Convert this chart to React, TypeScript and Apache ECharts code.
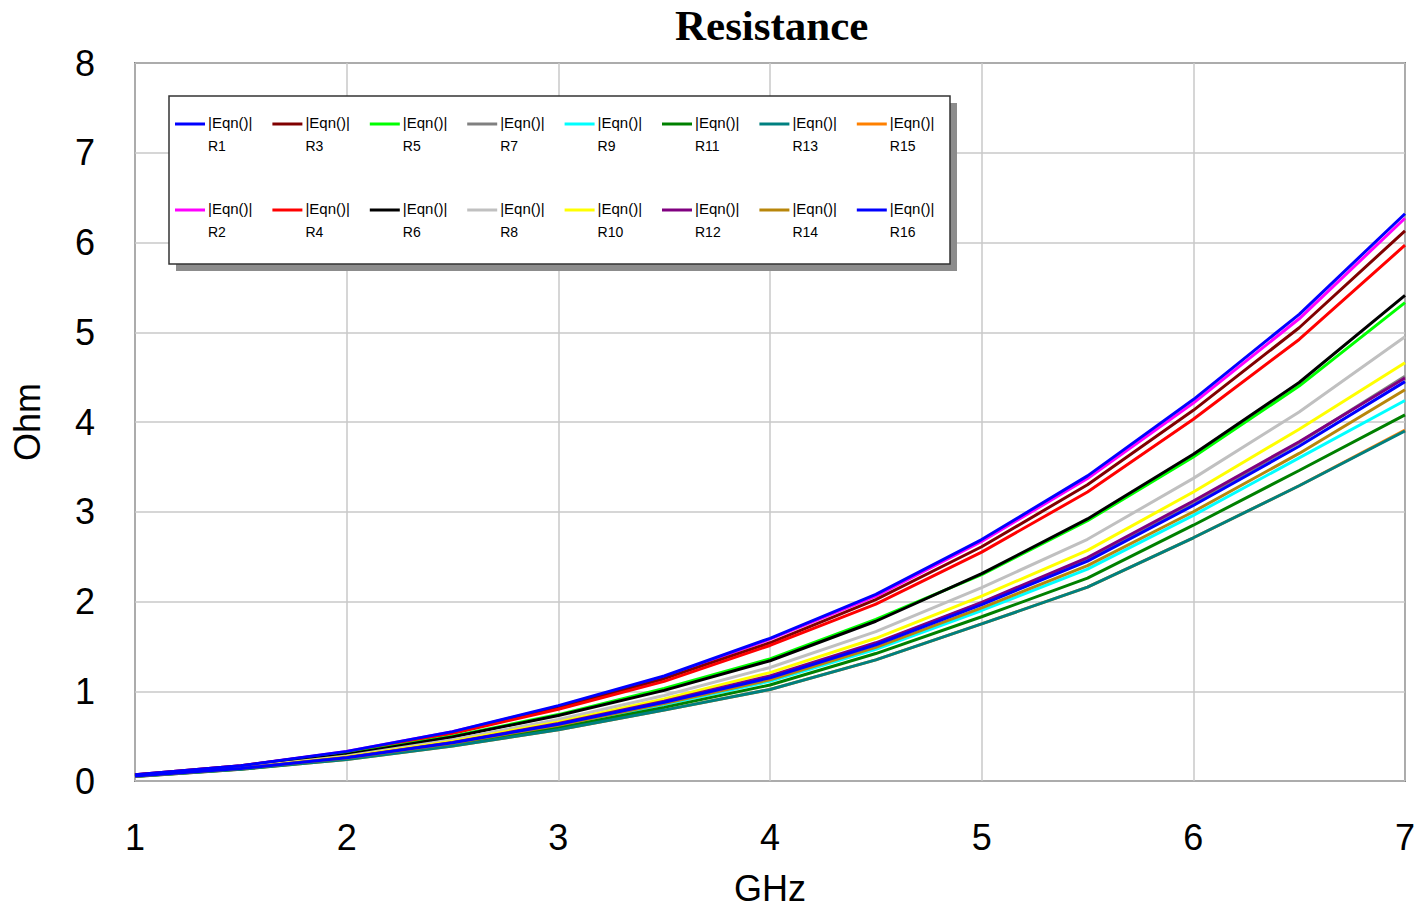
import React, { useEffect, useRef } from "react";
import * as echarts from "echarts";

const freqs = [1, 1.5, 2, 2.5, 3, 3.5, 4, 4.5, 5, 5.5, 6, 6.5, 7];

const seriesNames = ["R1", "R2", "R3", "R4", "R5", "R6", "R7", "R8", "R9", "R10", "R11", "R12", "R13", "R14", "R15", "R16"];
const seriesColors = [
  "#0000ff", "#ff00ff", "#800000", "#ff0000", "#00ff00", "#000000", "#808080", "#c0c0c0",
  "#00ffff", "#ffff00", "#008000", "#800080", "#008080", "#b8860b", "#ff8000", "#0000ff",
];

const R1 = [0.07, 0.17, 0.33, 0.55, 0.84, 1.17, 1.59, 2.08, 2.69, 3.4, 4.25, 5.2, 6.32];
const R2 = [0.07, 0.17, 0.33, 0.55, 0.83, 1.16, 1.58, 2.06, 2.67, 3.37, 4.21, 5.15, 6.27];
const R3 = [0.07, 0.17, 0.32, 0.54, 0.82, 1.14, 1.54, 2.02, 2.61, 3.3, 4.13, 5.05, 6.13];
const R4 = [0.067, 0.16, 0.32, 0.53, 0.8, 1.11, 1.51, 1.97, 2.55, 3.22, 4.03, 4.92, 5.97];
const R5 = [0.06, 0.155, 0.3, 0.5, 0.74, 1.03, 1.36, 1.8, 2.3, 2.9, 3.61, 4.4, 5.33];
const R6 = [0.06, 0.155, 0.295, 0.49, 0.73, 1.01, 1.34, 1.78, 2.31, 2.92, 3.64, 4.44, 5.41];
const R7 = [0.055, 0.14, 0.262, 0.43, 0.638, 0.885, 1.163, 1.53, 1.985, 2.47, 3.095, 3.77, 4.51];
const R8 = [0.059, 0.147, 0.279, 0.459, 0.686, 0.953, 1.265, 1.664, 2.154, 2.693, 3.372, 4.111, 4.95];
const R9 = [0.053, 0.136, 0.254, 0.416, 0.613, 0.851, 1.111, 1.467, 1.9, 2.36, 2.96, 3.6, 4.24];
const R10 = [0.057, 0.143, 0.27, 0.443, 0.659, 0.915, 1.208, 1.59, 2.06, 2.57, 3.22, 3.92, 4.66];
const R11 = [0.052, 0.134, 0.248, 0.405, 0.594, 0.82, 1.07, 1.42, 1.83, 2.26, 2.85, 3.46, 4.08];
const R12 = [0.055, 0.14, 0.262, 0.43, 0.64, 0.89, 1.17, 1.54, 1.99, 2.49, 3.12, 3.78, 4.49];
const R13 = [0.05, 0.13, 0.24, 0.39, 0.57, 0.79, 1.02, 1.35, 1.75, 2.16, 2.71, 3.29, 3.9];
const R14 = [0.054, 0.138, 0.257, 0.42, 0.621, 0.862, 1.128, 1.489, 1.929, 2.4, 3.0, 3.65, 4.36];
const R15 = [0.05, 0.13, 0.24, 0.39, 0.57, 0.79, 1.02, 1.35, 1.75, 2.16, 2.71, 3.29, 3.91];
const R16 = [0.055, 0.139, 0.26, 0.427, 0.632, 0.877, 1.151, 1.518, 1.966, 2.45, 3.07, 3.73, 4.45];

const seriesValues = [R1, R2, R3, R4, R5, R6, R7, R8, R9, R10, R11, R12, R13, R14, R15, R16];

const xTicks = [1, 2, 3, 4, 5, 6, 7];
const yTicks = [0, 1, 2, 3, 4, 5, 6, 7, 8];
const legendLabel = "|Eqn()|";

const SANS = "'Liberation Sans', Arial, sans-serif";

export default function App() {
  const ref = useRef<HTMLDivElement>(null);

  useEffect(() => {
    document.body.style.margin = "0";
    if (!ref.current) return;
    const chart = echarts.init(ref.current, undefined, { renderer: "svg" });

    const series = seriesNames.map((name, i) => ({
      name,
      type: "line",
      data: freqs.map((f, j) => [f, seriesValues[i][j]]),
      showSymbol: false,
      symbol: "none",
      smooth: false,
      silent: true,
      z: name === "R15" ? 1 : name === "R1" ? 4 : 2 + i * 0.01,
      lineStyle: { color: seriesColors[i], width: 3 },
      itemStyle: { color: seriesColors[i] },
    }));

    // custom legend (two rows, eight columns): odd in row 1, even in row 2
    const legendEls: any[] = [];
    const boxX = 169, boxY = 96, boxW = 781, boxH = 168;
    legendEls.push({
      type: "rect",
      shape: { x: boxX + 7, y: boxY + 7, width: boxW, height: boxH },
      style: { fill: "#8c8c8c" },
      z: 100,
    });
    legendEls.push({
      type: "rect",
      shape: { x: boxX, y: boxY, width: boxW, height: boxH },
      style: { fill: "#ffffff", stroke: "#333333", lineWidth: 1.5 },
      z: 101,
    });
    seriesNames.forEach((name, i) => {
      const col = Math.floor(i / 2);
      const row = i % 2;
      const x0 = 175 + col * 97.4;
      const yLine = row === 0 ? 124 : 210;
      legendEls.push({
        type: "line",
        shape: { x1: x0, y1: yLine, x2: x0 + 30, y2: yLine },
        style: { stroke: seriesColors[i], lineWidth: 3 },
        z: 102,
      });
      legendEls.push({
        type: "text",
        x: x0 + 33,
        y: yLine - 2,
        style: {
          text: legendLabel,
          fill: "#000",
          font: `15px ${SANS}`,
          textVerticalAlign: "middle",
          verticalAlign: "middle",
        },
        z: 102,
      });
      legendEls.push({
        type: "text",
        x: x0 + 33,
        y: yLine + 22,
        style: {
          text: name,
          fill: "#000",
          font: `14px ${SANS}`,
          textVerticalAlign: "middle",
          verticalAlign: "middle",
        },
        z: 102,
      });
    });

    chart.setOption({
      animation: false,
      backgroundColor: "#ffffff",
      title: {
        text: "Resistance",
        left: 670,
        top: -1,
        textStyle: {
          fontFamily: "'Liberation Serif', 'Times New Roman', serif",
          fontWeight: "bold",
          fontSize: 43,
          color: "#000",
        },
      },
      grid: {
        left: 135,
        right: 13,
        top: 63,
        bottom: 126,
        show: true,
        borderColor: "#222",
        borderWidth: 1.5,
        backgroundColor: "transparent",
      },
      xAxis: {
        type: "value",
        min: xTicks[0],
        max: xTicks[xTicks.length - 1],
        interval: 1,
        name: "GHz",
        nameLocation: "middle",
        nameGap: 89,
        nameTextStyle: { fontFamily: SANS, fontSize: 36, color: "#000" },
        axisLine: { show: false },
        axisTick: { show: false },
        axisLabel: { fontFamily: SANS, fontSize: 36, color: "#000", margin: 38 },
        splitLine: { show: true, lineStyle: { color: "#c8c8c8", width: 1.5 } },
      },
      yAxis: {
        type: "value",
        min: yTicks[0],
        max: yTicks[yTicks.length - 1],
        interval: 1,
        name: "Ohm",
        nameLocation: "middle",
        nameRotate: 90,
        nameGap: 90,
        nameTextStyle: { fontFamily: SANS, fontSize: 36, color: "#000" },
        axisLine: { show: false },
        axisTick: { show: false },
        axisLabel: { fontFamily: SANS, fontSize: 36, color: "#000", margin: 40 },
        splitLine: { show: true, lineStyle: { color: "#c8c8c8", width: 1.5 } },
      },
      series,
      graphic: { elements: legendEls },
    });

    return () => chart.dispose();
  }, []);

  return <div ref={ref} style={{ width: 1418, height: 911, position: "absolute", left: 0, top: 0 }} />;
}
